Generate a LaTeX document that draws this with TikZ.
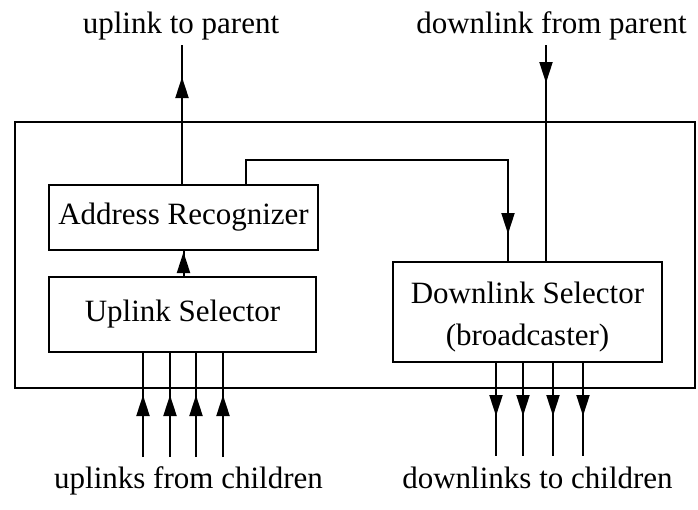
\documentclass[tikz,border=0pt]{standalone}
\usepackage{fontspec}
\setmainfont{Liberation Serif}
\usetikzlibrary{arrows.meta,decorations.markings}

\tikzset{
  wire/.style={line width=2pt},
  blockbox/.style={draw, line width=2pt, inner sep=0pt, align=center},
  textlabel/.style={inner sep=0pt, anchor=base},
  head/.tip={Triangle[length=21pt, width=13pt]},
  % arrowhead placed part-way along a connector
  tipat/.style={postaction={decorate}, decoration={markings,
      mark=at position #1 with {\arrow{head}}}}
}

\begin{document}
\begin{tikzpicture}[x=1pt, y=-1pt, font=\fontsize{31pt}{42pt}\selectfont]
  \useasboundingbox (0,0) rectangle (698,509);

  % enclosing switch
  \node (chip) [draw, line width=2pt, inner sep=0pt,
    minimum width=680pt, minimum height=266pt] at (355,255) {};

  % functional blocks
  \node (addr) [blockbox, minimum width=269pt, minimum height=65pt]
    at (183.5,217.5) {Address Recognizer};
  \node (upsel) [blockbox, minimum width=267pt, minimum height=75pt]
    at (182.5,314.5) {Uplink Selector};
  % the strut lowers the two text lines a little inside the box
  \node (dnsel) [blockbox, minimum width=269pt, minimum height=100pt]
    at (527.5,312) {\rule{0pt}{31pt}Downlink Selector\\(broadcaster)};

  % external labels
  \node (lupp) [textlabel] at (181,33) {uplink to parent};
  \node (ldnp) [textlabel] at (551.5,33) {downlink from parent};
  \node (lupc) [textlabel] at (188.5,488) {uplinks from children};
  \node (ldnc) [textlabel] at (537.5,488) {downlinks to children};

  % free ends and corners of the connectors
  \coordinate (uptop) at (182,45);
  \coordinate (dntop) at (546,45);
  \coordinate (turnL) at (246,160);
  \coordinate (turnR) at (508,160);
  \coordinate (uc1) at (143,457);
  \coordinate (uc2) at (170,457);
  \coordinate (uc3) at (196,457);
  \coordinate (uc4) at (223,457);
  \coordinate (dc1) at (496,456);
  \coordinate (dc2) at (523,456);
  \coordinate (dc3) at (553,456);
  \coordinate (dc4) at (583,456);

  % uplink to parent
  \draw[wire, tipat=107pt] (addr.north -| uptop) -- (uptop);
  % uplink selector feeds the address recognizer
  \draw[wire, tipat=24pt] (upsel.north -| addr) -- (addr.south);
  % recognized packets turned back down
  \draw[wire, tipat=-27pt] (addr.north -| turnL) -- (turnL) -- (turnR)
    -- (dnsel.north -| turnR);
  % downlink from parent
  \draw[wire, tipat=38pt] (dntop) -- (dnsel.north -| dntop);

  % uplinks from children
  \foreach \c in {uc1,uc2,uc3,uc4}
    \draw[wire, tipat=62pt] (\c) -- (upsel.south -| \c);
  % downlinks to children
  \foreach \c in {dc1,dc2,dc3,dc4}
    \draw[wire, tipat=53pt] (dnsel.south -| \c) -- (\c);
\end{tikzpicture}
\end{document}
